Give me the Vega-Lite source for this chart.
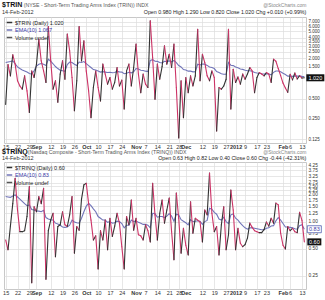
{
  "$schema": "https://vega.github.io/schema/vega-lite/v6.json",
  "padding": {"left": 1, "top": 0, "right": 0, "bottom": 0},
  "background": "white",
  "spacing": -3,
  "config": {"font": "Liberation Sans", "view": {"stroke": "#c8c8c8"}},
  "resolve": {"scale": {"color": "independent", "x": "independent", "y": "independent"}, "legend": {"color": "independent"}},
  "datasets": {
    "rows": [
      {"d":"2011-08-15","t":0.41,"te":1.72,"q":0.63,"qe":1.92},
      {"d":"2011-08-16","t":1.6,"te":1.75,"q":0.49,"qe":1.90},
      {"d":"2011-08-17","t":1.09,"te":1.78,"q":0.9,"qe":1.88},
      {"d":"2011-08-18","t":2.25,"te":1.82,"q":1.6,"qe":1.95},
      {"d":"2011-08-19","t":1.63,"te":1.65,"q":3.07,"qe":2.0},
      {"d":"2011-08-22","t":0.92,"te":1.48,"q":1.36,"qe":1.90},
      {"d":"2011-08-23","t":0.77,"te":1.40,"q":0.78,"qe":1.80},
      {"d":"2011-08-24","t":0.69,"te":1.33,"q":0.78,"qe":1.70},
      {"d":"2011-08-25","t":1.09,"te":1.29,"q":0.8,"qe":1.60},
      {"d":"2011-08-26","t":0.65,"te":1.24,"q":1.15,"qe":1.52},
      {"d":"2011-08-29","t":0.31,"te":1.18,"q":2.48,"qe":1.55},
      {"d":"2011-08-30","t":1.29,"te":1.155,"q":0.21,"qe":1.38},
      {"d":"2011-08-31","t":1.03,"te":1.3,"q":1.48,"qe":1.36},
      {"d":"2011-09-01","t":1.63,"te":1.52,"q":1.3,"qe":1.33},
      {"d":"2011-09-02","t":3.84,"te":1.62,"q":1.92,"qe":1.32},
      {"d":"2011-09-06","t":1.82,"te":1.66,"q":1.6,"qe":1.30},
      {"d":"2011-09-07","t":1.29,"te":1.62,"q":2.37,"qe":1.35},
      {"d":"2011-09-08","t":0.87,"te":1.55,"q":0.23,"qe":1.12},
      {"d":"2011-09-09","t":5.9,"te":1.93,"q":0.8,"qe":1.08},
      {"d":"2011-09-12","t":1.82,"te":1.80,"q":1.05,"qe":1.06},
      {"d":"2011-09-13","t":0.69,"te":1.65,"q":1.25,"qe":1.05},
      {"d":"2011-09-14","t":0.92,"te":1.50,"q":0.41,"qe":0.97},
      {"d":"2011-09-15","t":0.44,"te":1.40,"q":0.89,"qe":0.95},
      {"d":"2011-09-16","t":1.16,"te":1.32,"q":0.93,"qe":0.92},
      {"d":"2011-09-19","t":1.82,"te":1.30,"q":1.3,"qe":0.88},
      {"d":"2011-09-20","t":0.97,"te":1.27,"q":0.93,"qe":0.87},
      {"d":"2011-09-21","t":4.56,"te":1.60,"q":0.89,"qe":0.88},
      {"d":"2011-09-22","t":2.57,"te":1.75,"q":1.2,"qe":0.92},
      {"d":"2011-09-23","t":1.03,"te":1.72,"q":1.92,"qe":1.05},
      {"d":"2011-09-26","t":0.33,"te":1.62,"q":0.45,"qe":1.00},
      {"d":"2011-09-27","t":0.92,"te":1.55,"q":0.89,"qe":0.98},
      {"d":"2011-09-28","t":5.9,"te":1.75,"q":0.81,"qe":0.97},
      {"d":"2011-09-29","t":1.82,"te":1.72,"q":1.8,"qe":1.10},
      {"d":"2011-09-30","t":3.62,"te":1.78,"q":2.59,"qe":1.30},
      {"d":"2011-10-03","t":1.29,"te":1.66,"q":2.7,"qe":1.50},
      {"d":"2011-10-04","t":0.65,"te":1.55,"q":1.6,"qe":1.61},
      {"d":"2011-10-05","t":0.26,"te":1.45,"q":1.05,"qe":1.52},
      {"d":"2011-10-06","t":0.73,"te":1.35,"q":0.63,"qe":1.40},
      {"d":"2011-10-07","t":1.29,"te":1.33,"q":0.7,"qe":1.30},
      {"d":"2011-10-10","t":0.73,"te":1.29,"q":0.3,"qe":1.15},
      {"d":"2011-10-11","t":0.46,"te":1.24,"q":0.8,"qe":1.10},
      {"d":"2011-10-12","t":1.63,"te":1.26,"q":0.63,"qe":1.05},
      {"d":"2011-10-13","t":1.16,"te":1.24,"q":1.05,"qe":1.05},
      {"d":"2011-10-14","t":0.82,"te":1.22,"q":0.49,"qe":0.99},
      {"d":"2011-10-17","t":1.03,"te":1.23,"q":1.1,"qe":1.01},
      {"d":"2011-10-18","t":0.69,"te":1.21,"q":0.69,"qe":0.97},
      {"d":"2011-10-19","t":0.87,"te":1.22,"q":0.9,"qe":0.98},
      {"d":"2011-10-20","t":1.45,"te":1.27,"q":1.25,"qe":1.02},
      {"d":"2011-10-21","t":0.77,"te":1.25,"q":0.97,"qe":1.01},
      {"d":"2011-10-24","t":0.94,"te":1.24,"q":0.53,"qe":0.96},
      {"d":"2011-10-25","t":0.35,"te":1.17,"q":0.3,"qe":0.86},
      {"d":"2011-10-26","t":1.29,"te":1.19,"q":1.15,"qe":0.92},
      {"d":"2011-10-27","t":1.63,"te":1.23,"q":0.93,"qe":0.92},
      {"d":"2011-10-28","t":0.77,"te":1.21,"q":1.76,"qe":1.05},
      {"d":"2011-10-31","t":1.45,"te":1.25,"q":0.81,"qe":1.01},
      {"d":"2011-11-01","t":3.23,"te":1.40,"q":1.1,"qe":1.03},
      {"d":"2011-11-02","t":1.16,"te":1.38,"q":0.72,"qe":0.99},
      {"d":"2011-11-03","t":0.61,"te":1.32,"q":0.7,"qe":0.97},
      {"d":"2011-11-04","t":1.16,"te":1.31,"q":0.63,"qe":0.94},
      {"d":"2011-11-07","t":0.82,"te":1.28,"q":0.93,"qe":0.94},
      {"d":"2011-11-08","t":0.73,"te":1.26,"q":0.8,"qe":0.92},
      {"d":"2011-11-09","t":7.2,"te":1.85,"q":0.6,"qe":0.86},
      {"d":"2011-11-10","t":2.04,"te":1.90,"q":2.7,"qe":1.25},
      {"d":"2011-11-11","t":0.49,"te":1.80,"q":1.2,"qe":1.24},
      {"d":"2011-11-14","t":1.63,"te":1.79,"q":0.63,"qe":1.13},
      {"d":"2011-11-15","t":0.97,"te":1.72,"q":1.25,"qe":1.15},
      {"d":"2011-11-16","t":1.5,"te":1.70,"q":1.76,"qe":1.15},
      {"d":"2011-11-17","t":3.05,"te":1.80,"q":0.97,"qe":1.12},
      {"d":"2011-11-18","t":1.63,"te":1.78,"q":1.36,"qe":1.16},
      {"d":"2011-11-21","t":2.29,"te":1.82,"q":1.85,"qe":1.24},
      {"d":"2011-11-22","t":1.45,"te":1.76,"q":0.78,"qe":1.16},
      {"d":"2011-11-23","t":3.23,"te":1.85,"q":0.38,"qe":1.02},
      {"d":"2011-11-25","t":0.73,"te":1.72,"q":2.1,"qe":1.22},
      {"d":"2011-11-28","t":0.13,"te":1.55,"q":1.1,"qe":1.20},
      {"d":"2011-11-29","t":0.92,"te":1.48,"q":0.45,"qe":1.06},
      {"d":"2011-11-30","t":0.26,"te":1.35,"q":0.85,"qe":1.02},
      {"d":"2011-12-01","t":1.03,"te":1.33,"q":0.55,"qe":0.98},
      {"d":"2011-12-02","t":0.61,"te":1.28,"q":0.43,"qe":0.93},
      {"d":"2011-12-05","t":1.09,"te":1.28,"q":1.68,"qe":1.06},
      {"d":"2011-12-06","t":0.77,"te":1.25,"q":0.75,"qe":1.01},
      {"d":"2011-12-07","t":1.09,"te":1.26,"q":1.1,"qe":1.02},
      {"d":"2011-12-08","t":5.4,"te":1.62,"q":1.05,"qe":1.03},
      {"d":"2011-12-09","t":0.92,"te":1.58,"q":1.0,"qe":1.02},
      {"d":"2011-12-12","t":2.29,"te":1.64,"q":0.6,"qe":0.94},
      {"d":"2011-12-13","t":1.72,"te":1.63,"q":1.36,"qe":1.01},
      {"d":"2011-12-14","t":1.09,"te":1.56,"q":1.2,"qe":1.04},
      {"d":"2011-12-15","t":0.92,"te":1.48,"q":3.5,"qe":1.42},
      {"d":"2011-12-16","t":1.29,"te":1.45,"q":1.25,"qe":1.39},
      {"d":"2011-12-19","t":1.03,"te":1.40,"q":0.78,"qe":1.28},
      {"d":"2011-12-20","t":0.165,"te":1.26,"q":0.89,"qe":1.22},
      {"d":"2011-12-21","t":0.73,"te":1.22,"q":0.43,"qe":1.08},
      {"d":"2011-12-22","t":0.69,"te":1.17,"q":0.93,"qe":1.05},
      {"d":"2011-12-23","t":0.77,"te":1.15,"q":1.48,"qe":1.13},
      {"d":"2011-12-27","t":0.97,"te":1.15,"q":0.49,"qe":1.01},
      {"d":"2011-12-28","t":5.4,"te":1.72,"q":0.72,"qe":0.96},
      {"d":"2011-12-29","t":0.35,"te":1.57,"q":2.27,"qe":1.20},
      {"d":"2011-12-30","t":1.37,"te":1.55,"q":1.36,"qe":1.23},
      {"d":"2012-01-03","t":0.87,"te":1.48,"q":0.49,"qe":1.10},
      {"d":"2012-01-04","t":1.05,"te":1.44,"q":0.85,"qe":1.05},
      {"d":"2012-01-05","t":0.82,"te":1.38,"q":0.58,"qe":0.97},
      {"d":"2012-01-06","t":1.16,"te":1.36,"q":0.53,"qe":0.91},
      {"d":"2012-01-09","t":0.97,"te":1.32,"q":0.56,"qe":0.86},
      {"d":"2012-01-10","t":1.16,"te":1.30,"q":0.66,"qe":0.83},
      {"d":"2012-01-11","t":1.45,"te":1.30,"q":0.97,"qe":0.86},
      {"d":"2012-01-12","t":1.29,"te":1.28,"q":0.87,"qe":0.86},
      {"d":"2012-01-13","t":0.61,"te":1.22,"q":0.8,"qe":0.85},
      {"d":"2012-01-17","t":1.03,"te":1.20,"q":0.78,"qe":0.84},
      {"d":"2012-01-18","t":1.22,"te":1.19,"q":0.76,"qe":0.83},
      {"d":"2012-01-19","t":1.16,"te":1.17,"q":0.76,"qe":0.82},
      {"d":"2012-01-20","t":1.09,"te":1.16,"q":0.82,"qe":0.82},
      {"d":"2012-01-23","t":1.22,"te":1.17,"q":1.0,"qe":0.85},
      {"d":"2012-01-24","t":1.16,"te":1.16,"q":0.9,"qe":0.86},
      {"d":"2012-01-25","t":0.87,"te":1.13,"q":1.1,"qe":0.90},
      {"d":"2012-01-26","t":1.93,"te":1.23,"q":0.97,"qe":0.91},
      {"d":"2012-01-27","t":1.8,"te":1.29,"q":1.62,"qe":1.03},
      {"d":"2012-01-30","t":1.4,"te":1.29,"q":1.55,"qe":1.12},
      {"d":"2012-01-31","t":1.1,"te":1.25,"q":0.75,"qe":1.05},
      {"d":"2012-02-01","t":0.85,"te":1.19,"q":0.55,"qe":0.96},
      {"d":"2012-02-02","t":0.72,"te":1.14,"q":0.5,"qe":0.88},
      {"d":"2012-02-03","t":0.62,"te":1.08,"q":0.89,"qe":0.88},
      {"d":"2012-02-06","t":1.15,"te":1.08,"q":0.8,"qe":0.87},
      {"d":"2012-02-07","t":0.95,"te":1.07,"q":0.85,"qe":0.86},
      {"d":"2012-02-08","t":1.2,"te":1.09,"q":0.78,"qe":0.84},
      {"d":"2012-02-09","t":0.98,"te":1.08,"q":0.76,"qe":0.83},
      {"d":"2012-02-10","t":1.1,"te":1.08,"q":1.28,"qe":0.91},
      {"d":"2012-02-13","t":1.01,"te":1.07,"q":1.04,"qe":0.93},
      {"d":"2012-02-14","t":1.02,"te":1.067,"q":0.6,"qe":0.83}
    ]
  },
  "vconcat": [
    {
      "width": 302,
      "height": 126,
      "data": {"name": "rows"},
      "layer": [
        {
          "mark": {"type": "line", "strokeWidth": 1.1},
          "encoding": {
            "x": {"field": "d", "type": "ordinal", "scale": {"type": "point", "padding": 0.7},
              "axis": {"values": ["2011-08-15","2011-08-22","2011-08-29","2011-09-01","2011-09-12","2011-09-19","2011-09-26","2011-10-03","2011-10-10","2011-10-17","2011-10-24","2011-11-01","2011-11-07","2011-11-14","2011-11-21","2011-11-28","2011-12-01","2011-12-12","2011-12-19","2011-12-27","2012-01-03","2012-01-09","2012-01-17","2012-01-23","2012-02-01","2012-02-06","2012-02-13"],
                "labelExpr": "{'2011-09-01':'Sep','2011-10-03':'Oct','2011-11-01':'Nov','2011-12-01':'Dec','2012-01-03':'2012','2012-02-01':'Feb'}[datum.value] || toNumber(slice(datum.value, 8))",
                "labelFontWeight": {"condition": {"test": "indexof(['2011-09-01','2011-10-03','2011-11-01','2011-12-01','2012-01-03','2012-02-01'], datum.value) >= 0", "value": "bold"}, "value": "normal"},
                "labelOverlap": false, "labelAngle": 0, "labelFontSize": 5.5, "labelColor": "#333333", "labelPadding": 1, "labelBaseline": "top",
                "ticks": false, "domain": false, "grid": true, "gridColor": "#dddddd", "gridWidth": 0.7, "title": null}},
            "y": {"field": "te", "type": "quantitative", "scale": {"type": "log", "domain": [0.109, 8.2], "nice": false},
              "axis": {"orient": "right", "values": [0.125,0.25,0.5,1.5,2,2.5,3,3.5,4,5,6,7], "format": ".3f", "labelFontSize": 4.5, "labelColor": "#333333", "labelPadding": 2, "labelOverlap": false, "ticks": false, "domain": false, "grid": true, "gridColor": "#dddddd", "gridWidth": 0.7, "title": null}},
            "color": {"datum": "EMA(10) 1.067", "type": "nominal",
              "scale": {"domain": ["$TRIN (Daily) 1.020", "EMA(10) 1.067", "Volume undef"], "range": ["#333333", "#7074b8", "#555555"]},
              "legend": {"orient": "top-left", "offset": 2, "padding": 0, "title": null, "symbolType": "stroke", "symbolSize": 30, "symbolStrokeWidth": 1.5, "labelFontSize": 5.5, "labelOffset": 2, "rowPadding": 0.5, "labelLimit": 200,
                "encode": {"labels": {"update": {"fill": {"signal": "indexof(datum.label, 'EMA') == 0 ? '#3a3aa8' : '#222222'"}}}}}}
          }
        },
        {
          "transform": [
            {"window": [{"op": "lead", "field": "t", "as": "t2"}, {"op": "lead", "field": "d", "as": "d2"}], "sort": [{"field": "d"}]},
            {"filter": "datum.d2 != null"}
          ],
          "mark": {"type": "rule", "strokeWidth": 1.1, "strokeCap": "round"},
          "encoding": {
            "x": {"field": "d", "type": "ordinal"},
            "x2": {"field": "d2"},
            "y": {"field": "t", "type": "quantitative"},
            "y2": {"field": "t2"},
            "color": {"condition": {"test": "datum.t2 >= datum.t", "value": "#333333"}, "value": "#cc3366"}
          }
        },
        {
          "data": {"values": [{}]},
          "mark": {"type": "text", "text": "$TRIN", "align": "left", "baseline": "middle", "fontSize": 7, "fontWeight": "bold", "color": "#111111", "dx": -3.6},
          "encoding": {"x": {"datum": "2011-08-15", "type": "ordinal"}, "y": {"datum": 12.17, "type": "quantitative"}}
        },
        {
          "data": {"values": [{}]},
          "mark": {"type": "text", "text": "(NYSE - Short-Term Trading Arms Index (TRIN)) INDX", "align": "left", "baseline": "middle", "fontSize": 5.2, "color": "#555555", "dx": 18},
          "encoding": {"x": {"datum": "2011-08-15", "type": "ordinal"}, "y": {"datum": 12.17, "type": "quantitative"}}
        },
        {
          "data": {"values": [{}]},
          "mark": {"type": "text", "text": "14-Feb-2012", "align": "left", "baseline": "middle", "fontSize": 5.5, "color": "#333333", "dx": -3.6},
          "encoding": {"x": {"datum": "2011-08-15", "type": "ordinal"}, "y": {"datum": 9.57, "type": "quantitative"}}
        },
        {
          "data": {"values": [{}]},
          "mark": {"type": "text", "text": "@StockCharts.com", "align": "right", "baseline": "middle", "fontSize": 5, "color": "#888888", "dx": 2},
          "encoding": {"x": {"datum": "2012-02-14", "type": "ordinal"}, "y": {"datum": 12.17, "type": "quantitative"}}
        },
        {
          "data": {"values": [{}]},
          "mark": {"type": "text", "text": "Open 0.980  High 1.290  Low 0.820  Close 1.020  Chg +0.010 (+0.99%)", "align": "right", "baseline": "middle", "fontSize": 5.3, "color": "#222222", "dx": 2},
          "encoding": {"x": {"datum": "2012-02-14", "type": "ordinal"}, "y": {"datum": 9.57, "type": "quantitative"}}
        },
        {
          "data": {"values": [{}]},
          "mark": {"type": "point", "shape": "M-1,-0.39H1V0.39H-1Z", "size": 324, "filled": true, "color": "#111111", "opacity": 1, "xOffset": 11},
          "encoding": {"x": {"datum": "2012-02-14", "type": "ordinal"}, "y": {"datum": 1.02, "type": "quantitative"}}
        },
        {
          "data": {"values": [{}]},
          "mark": {"type": "text", "text": "1.020", "align": "center", "baseline": "middle", "fontSize": 5.5, "color": "#ffffff", "dx": 11},
          "encoding": {"x": {"datum": "2012-02-14", "type": "ordinal"}, "y": {"datum": 1.02, "type": "quantitative"}}
        }
      ]
    },
    {
      "width": 302,
      "height": 127,
      "data": {"name": "rows"},
      "layer": [
        {
          "mark": {"type": "line", "strokeWidth": 1.1},
          "encoding": {
            "x": {"field": "d", "type": "ordinal", "scale": {"type": "point", "padding": 0.7},
              "axis": {"values": ["2011-08-15","2011-08-22","2011-08-29","2011-09-01","2011-09-12","2011-09-19","2011-09-26","2011-10-03","2011-10-10","2011-10-17","2011-10-24","2011-11-01","2011-11-07","2011-11-14","2011-11-21","2011-11-28","2011-12-01","2011-12-12","2011-12-19","2011-12-27","2012-01-03","2012-01-09","2012-01-17","2012-01-23","2012-02-01","2012-02-06","2012-02-13"],
                "labelExpr": "{'2011-09-01':'Sep','2011-10-03':'Oct','2011-11-01':'Nov','2011-12-01':'Dec','2012-01-03':'2012','2012-02-01':'Feb'}[datum.value] || toNumber(slice(datum.value, 8))",
                "labelFontWeight": {"condition": {"test": "indexof(['2011-09-01','2011-10-03','2011-11-01','2011-12-01','2012-01-03','2012-02-01'], datum.value) >= 0", "value": "bold"}, "value": "normal"},
                "labelOverlap": false, "labelAngle": 0, "labelFontSize": 5.5, "labelColor": "#333333", "labelPadding": 1, "labelBaseline": "top",
                "ticks": false, "domain": false, "grid": true, "gridColor": "#dddddd", "gridWidth": 0.7, "title": null}},
            "y": {"field": "qe", "type": "quantitative", "scale": {"type": "log", "domain": [0.179, 4.66], "nice": false},
              "axis": {"orient": "right", "values": [0.25,0.5,0.75,1,1.25,1.5,1.75,2,2.25,2.5,2.75,3.25,3.75,4.25], "format": ".2f", "labelFontSize": 4.8, "labelColor": "#333333", "labelPadding": 2, "labelOverlap": false, "ticks": false, "domain": false, "grid": true, "gridColor": "#dddddd", "gridWidth": 0.7, "title": null}},
            "color": {"datum": "EMA(10) 0.83", "type": "nominal",
              "scale": {"domain": ["$TRINQ (Daily) 0.60", "EMA(10) 0.83", "Volume undef"], "range": ["#333333", "#7074b8", "#555555"]},
              "legend": {"orient": "top-left", "offset": 2, "padding": 0, "title": null, "symbolType": "stroke", "symbolSize": 30, "symbolStrokeWidth": 1.5, "labelFontSize": 5.5, "labelOffset": 2, "rowPadding": 0.5, "labelLimit": 200,
                "encode": {"labels": {"update": {"fill": {"signal": "indexof(datum.label, 'EMA') == 0 ? '#3a3aa8' : '#222222'"}}}}}}
          }
        },
        {
          "transform": [
            {"window": [{"op": "lead", "field": "q", "as": "q2"}, {"op": "lead", "field": "d", "as": "d2"}], "sort": [{"field": "d"}]},
            {"filter": "datum.d2 != null"}
          ],
          "mark": {"type": "rule", "strokeWidth": 1.1, "strokeCap": "round"},
          "encoding": {
            "x": {"field": "d", "type": "ordinal"},
            "x2": {"field": "d2"},
            "y": {"field": "q", "type": "quantitative"},
            "y2": {"field": "q2"},
            "color": {"condition": {"test": "datum.q2 >= datum.q", "value": "#333333"}, "value": "#cc3366"}
          }
        },
        {
          "data": {"values": [{}]},
          "mark": {"type": "text", "text": "$TRINQ", "align": "left", "baseline": "middle", "fontSize": 7, "fontWeight": "bold", "color": "#111111", "dx": -3.6},
          "encoding": {"x": {"datum": "2011-08-15", "type": "ordinal"}, "y": {"datum": 6.02, "type": "quantitative"}}
        },
        {
          "data": {"values": [{}]},
          "mark": {"type": "text", "text": "(Nasdaq Composite - Short-Term Trading Arms Index (TRINQ)) INDX", "align": "left", "baseline": "middle", "fontSize": 5.2, "color": "#555555", "dx": 22},
          "encoding": {"x": {"datum": "2011-08-15", "type": "ordinal"}, "y": {"datum": 6.02, "type": "quantitative"}}
        },
        {
          "data": {"values": [{}]},
          "mark": {"type": "text", "text": "14-Feb-2012", "align": "left", "baseline": "middle", "fontSize": 5.5, "color": "#333333", "dx": -3.6},
          "encoding": {"x": {"datum": "2011-08-15", "type": "ordinal"}, "y": {"datum": 5.1, "type": "quantitative"}}
        },
        {
          "data": {"values": [{}]},
          "mark": {"type": "text", "text": "@StockCharts.com", "align": "right", "baseline": "middle", "fontSize": 5, "color": "#888888", "dx": 2},
          "encoding": {"x": {"datum": "2012-02-14", "type": "ordinal"}, "y": {"datum": 6.02, "type": "quantitative"}}
        },
        {
          "data": {"values": [{}]},
          "mark": {"type": "text", "text": "Open 0.63  High 0.82  Low 0.40  Close 0.60  Chg -0.44 (-42.31%)", "align": "right", "baseline": "middle", "fontSize": 5.3, "color": "#222222", "dx": 2},
          "encoding": {"x": {"datum": "2012-02-14", "type": "ordinal"}, "y": {"datum": 5.1, "type": "quantitative"}}
        },
        {
          "data": {"values": [{}]},
          "mark": {"type": "point", "shape": "M-1,-0.5H1V0.5H-1Z", "size": 196, "filled": false, "fill": "#ffffff", "stroke": "#5060b0", "strokeWidth": 0.8, "opacity": 1, "xOffset": 10},
          "encoding": {"x": {"datum": "2012-02-14", "type": "ordinal"}, "y": {"datum": 0.83, "type": "quantitative"}}
        },
        {
          "data": {"values": [{}]},
          "mark": {"type": "text", "text": "0.83", "align": "center", "baseline": "middle", "fontSize": 5.5, "color": "#3a3aa8", "dx": 10},
          "encoding": {"x": {"datum": "2012-02-14", "type": "ordinal"}, "y": {"datum": 0.83, "type": "quantitative"}}
        },
        {
          "data": {"values": [{}]},
          "mark": {"type": "point", "shape": "M-1,-0.5H1V0.5H-1Z", "size": 196, "filled": true, "color": "#111111", "opacity": 1, "xOffset": 10},
          "encoding": {"x": {"datum": "2012-02-14", "type": "ordinal"}, "y": {"datum": 0.6, "type": "quantitative"}}
        },
        {
          "data": {"values": [{}]},
          "mark": {"type": "text", "text": "0.60", "align": "center", "baseline": "middle", "fontSize": 5.5, "color": "#ffffff", "dx": 10},
          "encoding": {"x": {"datum": "2012-02-14", "type": "ordinal"}, "y": {"datum": 0.6, "type": "quantitative"}}
        }
      ]
    }
  ]
}
